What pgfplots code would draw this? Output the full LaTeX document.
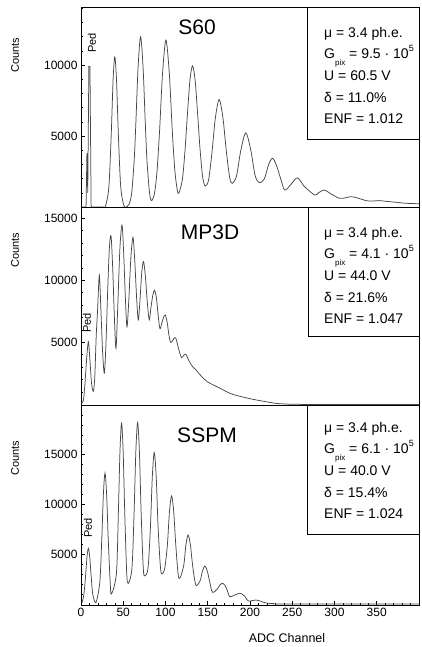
\documentclass[border=0pt]{standalone}
\usepackage{fontspec}
\setmainfont{Liberation Sans}
\usepackage{pgfplots}
\pgfplotsset{compat=1.18}
\pgfplotsset{
  panel/.style={
    scale only axis, width=338pt, xmin=0, xmax=400,
    anchor=south west,
    axis line style={line width=0.8pt},
    tick align=inside, ytick pos=left, xtick pos=bottom,
    ytick={5000,10000,15000},
    minor ytick={1000,2000,...,19000},
    major tick length=4pt, minor tick length=2.2pt,
    tick style={line width=0.6pt, black},
    scaled y ticks=false, scaled x ticks=false,
    /pgf/number format/1000 sep={},
    /pgf/number format/assume math mode=true,
    ticklabel style={font=\fontsize{12}{12}\selectfont},
  },
  sp/.style={color=black!72, line width=0.75pt, mark=none},
}
\newcommand{\info}[3]{%
  μ = 3.4 ph.e.\\
  G\raisebox{-0.45em}{\fontsize{8}{8}\selectfont pix} = #1 · 10\raisebox{0.55em}{\fontsize{9}{9}\selectfont 5}\\
  U = #2 V\\
  δ = #3\\
}
\begin{document}
\begin{tikzpicture}
\path[use as bounding box] (0,0) rectangle (421pt,647pt);

% ---------------- Panel 1: S60
\begin{axis}[panel, at={(81pt,440pt)}, height=200pt, ymin=0, ymax=14100, xtick=\empty]
\addplot[sp] coordinates {(0,0)(6,0)(7,3800)(8,1000)(9.3,9900)(10.6,9900)(12,0)(14,0)};
\addplot[sp, smooth] coordinates {
(14,0)(26,0)(29,60)(33,1430)(35.9,5290)(38,8990)(40,10580)(42,8990)(44.1,5290)(47,1430)(51,60)(54.5,30)
(57,200)(60,1000)(63,3360)(65,6050)(67.5,9790)(70.5,12000)(73.5,9790)(76,6050)(78,3360)(81,1060)(83.5,450)
(87,965)(90,2550)(93,5390)(96.5,9420)(100.5,11760)(104.5,9420)(108,5390)(111,2610)(114,1180)(116,1000)
(120,1960)(123,3920)(126,6580)(129,8970)(132,9950)(135,8970)(138,6580)(141,3990)(144,2110)(147,1480)
(151,1910)(155,3850)(159,6270)(163.5,7580)(168,6270)(172,3930)(176,2060)(179,1670)
(184,2180)(189,3950)(195,5230)(201,3990)(206,2230)(211,1710)
(217,1980)(222,2990)(226.5,3430)(231,2990)(236,2050)(241,1200)
(248,1560)(256,2060)(264,1470)(276.5,845)(281,1000)(288,1200)(295,950)(306,610)
(313,650)(320,730)(328,620)(338,440)(345,420)(353,450)(361,400)(373,330)(385,260)(400,230)};
\end{axis}

% ---------------- Panel 2: MP3D
\begin{axis}[panel, at={(81pt,242pt)}, height=198pt, ymin=-50, ymax=15900, xtick=\empty]
\addplot[sp, smooth] coordinates {
(0.5,150)(2.7,280)(4.5,1500)(6.5,3500)(8.7,5050)(10.5,3600)(12.5,1700)(14.6,1050)(16.3,2200)(18,5500)(19.7,7700)
(21.7,10400)(23.6,7500)(25.6,4200)(27.6,2520)(29.5,4800)(31.5,9000)(33.5,12500)(35.5,13580)(37.5,11000)(39.5,7000)
(41.4,4520)(43.3,7500)(46,12500)(48.5,14440)(50.5,12200)(52.5,8600)(54.4,6250)(56.5,8300)(59,11800)(61.5,13450)
(63.6,11600)(65.8,8600)(67.8,6800)(69.8,8400)(72,10700)(74,11500)(76.2,10300)(78.5,8200)(80.8,6800)(82.8,7800)
(85,8800)(87,9200)(89.2,8600)(91.3,7200)(93.4,6100)(95.5,6500)(97.6,7000)(99.7,7200)(102,6600)(104,5600)(106,5000)
(108,5100)(110,5300)(112,5370)(114.3,4800)(116.6,4200)(119,3770)(121.5,3950)(124,4040)(126.5,3700)(129.5,3300)
(132.5,3000)(136,2790)(140,2450)(144.6,2120)(150,1800)(157,1550)(164,1320)(170,1100)(176,900)(182,760)(188,650)
(196,520)(204,400)(212,300)(220,200)(231,80)(245,20)(260,0)(400,0)};
\end{axis}

% ---------------- Panel 3: SSPM
\begin{axis}[panel, at={(81pt,42pt)}, height=200pt, ymin=-100, ymax=20000,
  xtick={0,50,...,350}, minor xtick={10,20,...,390}]
\addplot[sp, smooth] coordinates {
(1,100)(3.4,950)(5.4,2800)(7.05,4700)(8.7,5600)(10.35,4700)(12,2800)(14,950)(17.7,150)
(22.3,2240)(24.6,6575)(26.5,11050)(28.4,13150)(30.3,11050)(32.2,6575)(34.5,2240)(36,1000)
(41.9,3090)(44.2,9090)(46.1,15270)(48,18180)(49.9,15270)(51.8,9090)(54.1,3090)(55.9,2080)
(60.3,3600)(62.8,9120)(64.9,15320)(67,18240)(69.1,15320)(71.2,9120)(73.7,3600)(75.6,2820)
(79.3,3600)(82.1,7610)(84.4,12790)(86.7,15220)(89,12790)(91.3,7610)(94.1,3600)(96.2,3020)
(99.2,3650)(102.2,5900)(104.7,9300)(107.2,10860)(109.7,9300)(112.2,5900)(115.8,2590)
(121.4,3800)(124.1,5900)(126.8,6940)(129.5,5900)(132.2,3800)(135.9,1910)
(140.8,2300)(143.7,3300)(146.6,3820)(149.5,3300)(152.4,2200)(155.6,1180)
(161.2,1500)(164.3,1900)(167.4,2080)(170.5,1850)(173.6,1250)(176,730)
(182,900)(188,1080)(193,850)(198,300)(203,350)(207,400)(212,300)(219,100)(230,30)(245,0)(400,0)};
\end{axis}

% ---------------- Texts
\node[font=\fontsize{21}{21}\selectfont] at (197pt,620pt) {S60};
\node[font=\fontsize{21}{21}\selectfont] at (210pt,415pt) {MP3D};
\node[font=\fontsize{21}{21}\selectfont] at (207pt,212pt) {SSPM};

\foreach \y in {592,397,189} {
  \node[rotate=90, font=\fontsize{11}{11}\selectfont] at (15pt,\y pt) {Counts};
}
\node[rotate=90, font=\fontsize{11}{11}\selectfont] at (92pt,604pt) {Ped};
\node[rotate=90, font=\fontsize{11}{11}\selectfont] at (87pt,324pt) {Ped};
\node[rotate=90, font=\fontsize{11}{11}\selectfont] at (88pt,119pt) {Ped};

\node[font=\fontsize{12.5}{12.5}\selectfont] at (287pt,9pt) {ADC Channel};

\draw[line width=0.8pt] (307pt,508pt) rectangle (419pt,640pt);
\draw[line width=0.8pt] (308pt,311pt) rectangle (419pt,440pt);
\draw[line width=0.8pt] (307pt,113pt) rectangle (419pt,242pt);

\node[anchor=north west, align=left, inner sep=0pt, font=\fontsize{14}{21.6}\selectfont] at (324pt,620pt)
  {\info{9.5}{60.5}{11.0\%} ENF = 1.012};
\node[anchor=north west, align=left, inner sep=0pt, font=\fontsize{14}{21.6}\selectfont] at (324pt,420pt)
  {\info{4.1}{44.0}{21.6\%} ENF = 1.047};
\node[anchor=north west, align=left, inner sep=0pt, font=\fontsize{14}{21.6}\selectfont] at (324pt,225pt)
  {\info{6.1}{40.0}{15.4\%} ENF = 1.024};
\end{tikzpicture}
\end{document}
